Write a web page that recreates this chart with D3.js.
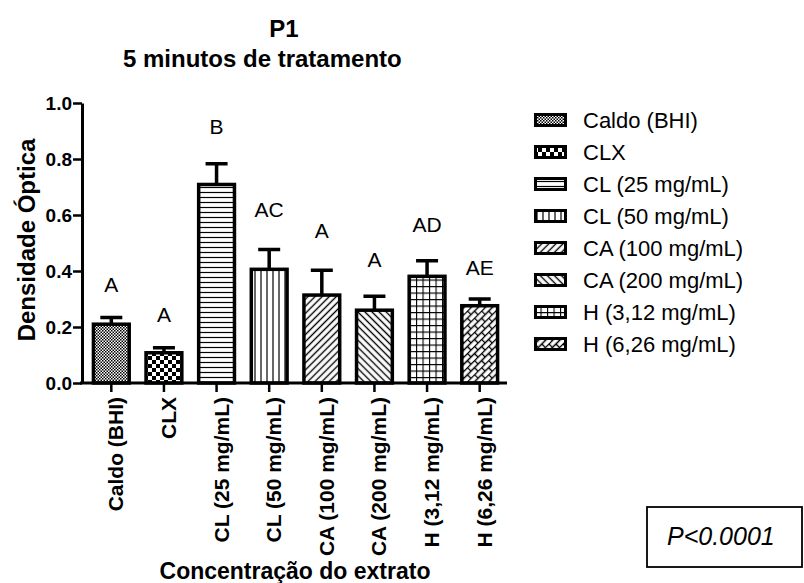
<!DOCTYPE html>
<html>
<head>
<meta charset="utf-8">
<script src="https://cdnjs.cloudflare.com/ajax/libs/d3/7.8.5/d3.min.js"></script>
<style>
  body { margin: 0; background: #fff; }
  svg text { font-family: Arial, "Liberation Sans", sans-serif; }
</style>
</head>
<body>
<div id="vis"></div>
<script>
// groups on the x axis
var categories = ["Caldo (BHI)", "CLX", "CL (25 mg/mL)", "CL (50 mg/mL)",
                  "CA (100 mg/mL)", "CA (200 mg/mL)", "H (3,12 mg/mL)", "H (6,26 mg/mL)"];
// mean optical density and upper error
var means = [0.210, 0.108, 0.709, 0.406, 0.314, 0.260, 0.381, 0.276];
var errors = [0.024, 0.018, 0.074, 0.071, 0.089, 0.050, 0.056, 0.024];
// significance letters and where they sit (in y units)
var letters = ["A", "A", "B", "AC", "A", "A", "AD", "AE"];
var letterY = [0.324, 0.217, 0.891, 0.592, 0.517, 0.414, 0.539, 0.385];
var yTicks = [0.0, 0.2, 0.4, 0.6, 0.8, 1.0];
var patterns = ["fine", "checker", "hlines", "vlines", "diagR", "diagL", "grid", "brick"];

var W = 804, H = 583;
var svg = d3.select("#vis").append("svg")
    .attr("width", W)
    .attr("height", H);

// patterns for bars
var defs = svg.append("defs");
function pat(id, w, h) {
  return defs.append("pattern").attr("id", id)
      .attr("patternUnits", "userSpaceOnUse")
      .attr("width", w).attr("height", h);
}
var p;
p = pat("fine", 3, 3);
p.append("rect").attr("width", 3).attr("height", 3).attr("fill", "#fff");
p.append("rect").attr("width", 1.5).attr("height", 1.5).attr("fill", "#000");
p.append("rect").attr("x", 1.5).attr("y", 1.5).attr("width", 1.5).attr("height", 1.5).attr("fill", "#000");

p = pat("checker", 8, 8);
p.append("rect").attr("width", 8).attr("height", 8).attr("fill", "#fff");
p.append("rect").attr("width", 4).attr("height", 4).attr("fill", "#000");
p.append("rect").attr("x", 4).attr("y", 4).attr("width", 4).attr("height", 4).attr("fill", "#000");

p = pat("hlines", 6, 5);
p.append("rect").attr("width", 6).attr("height", 5).attr("fill", "#fff");
p.append("line").attr("x1", 0).attr("x2", 6).attr("y1", 2.5).attr("y2", 2.5)
    .attr("stroke", "#000").attr("stroke-width", 1.2);

p = pat("vlines", 6, 6);
p.append("rect").attr("width", 6).attr("height", 6).attr("fill", "#fff");
p.append("line").attr("x1", 3).attr("x2", 3).attr("y1", 0).attr("y2", 6)
    .attr("stroke", "#000").attr("stroke-width", 1.2);

p = pat("diagR", 5, 5).attr("patternTransform", "rotate(45)");
p.append("rect").attr("width", 5).attr("height", 5).attr("fill", "#fff");
p.append("line").attr("x1", 2.5).attr("x2", 2.5).attr("y1", 0).attr("y2", 5)
    .attr("stroke", "#000").attr("stroke-width", 1.4);

p = pat("diagL", 5, 5).attr("patternTransform", "rotate(-45)");
p.append("rect").attr("width", 5).attr("height", 5).attr("fill", "#fff");
p.append("line").attr("x1", 2.5).attr("x2", 2.5).attr("y1", 0).attr("y2", 5)
    .attr("stroke", "#000").attr("stroke-width", 1.4);

p = pat("grid", 6.5, 6.5);
p.append("rect").attr("width", 6.5).attr("height", 6.5).attr("fill", "#fff");
p.append("path").attr("d", "M0,0.5H6.5M0.5,0V6.5").attr("stroke", "#000").attr("stroke-width", 1.2);

p = pat("brick", 10, 10).attr("patternTransform", "rotate(-45)");
p.append("rect").attr("width", 10).attr("height", 10).attr("fill", "#fff");
p.append("path").attr("d", "M0,0.5H10M0,5.5H10M0.5,0V5.5M5.5,5.5V10")
    .attr("stroke", "#000").attr("stroke-width", 1.4);

// scales
var x = d3.scaleBand().domain(categories).range([85, 506]).paddingInner(0.32).paddingOuter(0.16);
var y = d3.scaleLinear().domain([0, 1]).range([383, 103]);

// title
svg.append("text").attr("x", 284).attr("y", 37).attr("text-anchor", "middle")
    .attr("font-weight", "bold").attr("font-size", 24).text("P1");
svg.append("text").attr("x", 123).attr("y", 67)
    .attr("font-weight", "bold").attr("font-size", 24).text("5 minutos de tratamento");

// bars
svg.selectAll(".bar").data(categories).enter().append("rect")
    .attr("class", "bar")
    .attr("x", function(d) { return x(d); })
    .attr("width", x.bandwidth())
    .attr("y", function(d, i) { return y(means[i]); })
    .attr("height", function(d, i) { return y(0) - y(means[i]); })
    .attr("fill", function(d, i) { return "url(#" + patterns[i] + ")"; })
    .attr("stroke", "#000").attr("stroke-width", 3.5);

// error bars
var cap = 11;
svg.selectAll(".err").data(categories).enter().append("path")
    .attr("class", "err")
    .attr("d", function(d, i) {
      var cx = x(d) + x.bandwidth() / 2;
      return "M" + cx + "," + y(means[i]) + "V" + y(means[i] + errors[i]) +
             "M" + (cx - cap) + "," + y(means[i] + errors[i]) + "H" + (cx + cap);
    })
    .attr("stroke", "#000").attr("stroke-width", 3.5).attr("fill", "none");

// letters
svg.selectAll(".letter").data(categories).enter().append("text")
    .attr("x", function(d) { return x(d) + x.bandwidth() / 2; })
    .attr("y", function(d, i) { return y(letterY[i]); })
    .attr("text-anchor", "middle").attr("font-size", 21)
    .text(function(d, i) { return letters[i]; });

// y axis
var yAxis = svg.append("g").attr("transform", "translate(82,0)")
    .call(d3.axisLeft(y).tickValues(yTicks).tickFormat(d3.format(".1f")).tickSize(9).tickSizeOuter(0));
yAxis.select(".domain").attr("stroke-width", 3);
yAxis.selectAll(".tick line").attr("stroke-width", 2.5);
yAxis.selectAll(".tick text").attr("font-size", 19).attr("font-weight", "bold")
    .attr("font-family", "Arial, 'Liberation Sans', sans-serif").attr("x", -10);

svg.append("text").attr("transform", "translate(35,240)rotate(-90)")
    .attr("text-anchor", "middle").attr("font-weight", "bold").attr("font-size", 24)
    .text("Densidade Óptica");

// x axis
svg.append("line").attr("x1", 80).attr("x2", 507).attr("y1", 383).attr("y2", 383)
    .attr("stroke", "#000").attr("stroke-width", 3);
var xAxis = svg.append("g").attr("transform", "translate(0,383)")
    .call(d3.axisBottom(x).tickSize(9).tickSizeOuter(0));
xAxis.select(".domain").remove();
xAxis.selectAll(".tick line").attr("stroke-width", 2.5);
xAxis.selectAll(".tick text")
    .attr("font-size", 21).attr("font-weight", "bold")
    .attr("font-family", "Arial, 'Liberation Sans', sans-serif")
    .attr("text-anchor", "end")
    .attr("transform", "rotate(-90)")
    .attr("x", -14).attr("y", 12).attr("dy", 0);

svg.append("text").attr("x", 295).attr("y", 579).attr("text-anchor", "middle")
    .attr("font-weight", "bold").attr("font-size", 23).text("Concentração do extrato");

// legend
var legend = svg.selectAll(".leg").data(categories).enter().append("g")
    .attr("transform", function(d, i) { return "translate(534," + (120 + i * 32) + ")"; });
legend.append("rect").attr("x", 1.5).attr("y", -5.5).attr("width", 30).attr("height", 11)
    .attr("fill", function(d, i) { return "url(#" + patterns[i] + ")"; })
    .attr("stroke", "#000").attr("stroke-width", 3);
legend.append("text").attr("x", 49).attr("dy", "0.35em").attr("font-size", 22)
    .text(function(d) { return d; });

// p value box
svg.append("rect").attr("x", 647).attr("y", 507).attr("width", 155).attr("height", 60)
    .attr("fill", "none").attr("stroke", "#000").attr("stroke-width", 1.8);
svg.append("text").attr("x", 667).attr("y", 545).attr("font-style", "italic")
    .attr("font-family", "Lato, 'Open Sans', sans-serif").attr("font-size", 25).text("P<0.0001");
</script>
</body>
</html>
